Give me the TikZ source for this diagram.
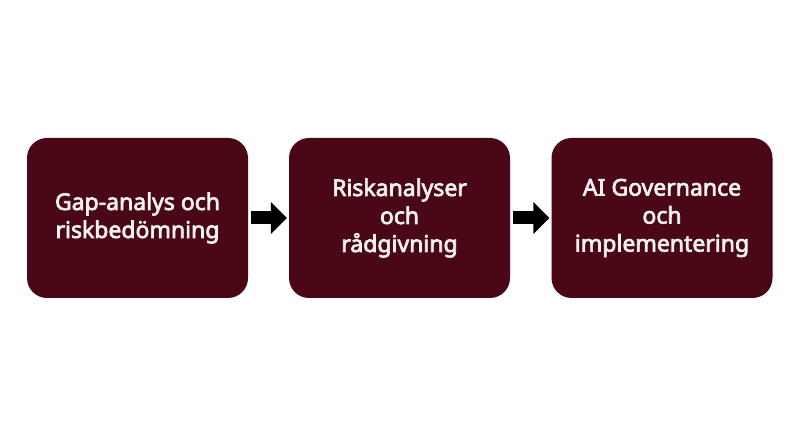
\documentclass[tikz,border=0pt]{standalone}
\usepackage{fontspec}
\setmainfont{Noto Sans}
\newfontfamily\boxfont[FakeBold=3]{Noto Sans}
\usetikzlibrary{arrows.meta}
\definecolor{maroon}{HTML}{4A0716}
\definecolor{boxtext}{HTML}{F2F2F2}
\begin{document}
\begin{tikzpicture}[x=1pt,y=1pt,
  stagebox/.style={fill=maroon, rounded corners=20pt, minimum width=221pt, minimum height=160pt,
    text=boxtext, align=center, font=\boxfont\fontsize{23}{28}\selectfont, inner sep=0pt},
  flowarrow/.style={line width=13pt, -{Triangle[width=31pt,length=16pt]}, shorten <=3pt, shorten >=2pt}]
\useasboundingbox (0,0) rectangle (800,436);
\fill[white] (0,0) rectangle (800,436);
\node[stagebox] (a) at (137.5,218) {Gap-analys och\\riskbedömning};
\node[stagebox] (b) at (399.5,218) {Riskanalyser\\och\\rådgivning};
\node[stagebox] (c) at (662,218) {AI Governance\\och\\implementering};
\draw[flowarrow] (a.east) -- (b.west);
\draw[flowarrow] (b.east) -- (c.west);
\end{tikzpicture}
\end{document}
